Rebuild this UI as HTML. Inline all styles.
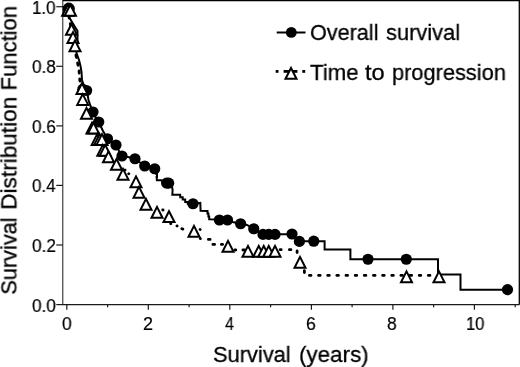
<!DOCTYPE html>
<html><head><meta charset="utf-8"><style>
html,body{margin:0;padding:0;background:#fff;}
body{width:520px;height:367px;position:relative;overflow:hidden;font-family:"Liberation Sans",sans-serif;color:#000;}
.t{will-change:transform;position:absolute;white-space:nowrap;line-height:1;transform-origin:0 0;}
.b{font-size:22.9px;-webkit-text-stroke:0.3px #000;}
.s{font-size:18.0px;-webkit-text-stroke:0.2px #000;}
</style></head><body>
<svg width="520" height="367" viewBox="0 0 520 367" style="position:absolute;left:0;top:0">
<g stroke="#1a1a1a" stroke-width="1.2" fill="none">
<line x1="62.8" x2="62.8" y1="0" y2="304.6" stroke-width="1"/>
<line x1="62.3" x2="519.6" y1="304.6" y2="304.6"/>
<line x1="62.8" x2="520" y1="0.5" y2="0.5" stroke="#000" stroke-width="1.3"/>
<line x1="519.3" x2="519.3" y1="0" y2="304.6" stroke="#000" stroke-width="1.3"/>
<line x1="56.3" x2="62.8" y1="304.6" y2="304.6"/>
<line x1="56.3" x2="62.8" y1="245.0" y2="245.0"/>
<line x1="56.3" x2="62.8" y1="185.4" y2="185.4"/>
<line x1="56.3" x2="62.8" y1="125.9" y2="125.9"/>
<line x1="56.3" x2="62.8" y1="66.3" y2="66.3"/>
<line x1="56.3" x2="62.8" y1="6.7" y2="6.7"/>
<line x1="66.8" x2="66.8" y1="304.6" y2="309.70000000000005"/>
<line x1="107.6" x2="107.6" y1="304.6" y2="307.20000000000005"/>
<line x1="148.3" x2="148.3" y1="304.6" y2="309.70000000000005"/>
<line x1="189.1" x2="189.1" y1="304.6" y2="307.20000000000005"/>
<line x1="229.8" x2="229.8" y1="304.6" y2="309.70000000000005"/>
<line x1="270.6" x2="270.6" y1="304.6" y2="307.20000000000005"/>
<line x1="311.4" x2="311.4" y1="304.6" y2="309.70000000000005"/>
<line x1="352.1" x2="352.1" y1="304.6" y2="307.20000000000005"/>
<line x1="392.9" x2="392.9" y1="304.6" y2="309.70000000000005"/>
<line x1="433.6" x2="433.6" y1="304.6" y2="307.20000000000005"/>
<line x1="474.4" x2="474.4" y1="304.6" y2="309.70000000000005"/>
<line x1="515.2" x2="515.2" y1="304.6" y2="307.20000000000005"/>
</g>
<polyline points="67,8 69,17 71.5,30 73,38 75,51 77,60 79,70 79.8,80 81.5,88" fill="none" stroke="#000" stroke-width="2.8" stroke-dasharray="2.4 5.6" stroke-linecap="round"/>
<path d="M124.96,169.96L125.04,170.04 M128.71,173.71L128.79,173.79 M162.70,210.00L163.10,210.00 M170.71,223.71L170.79,223.79 M177.00,225.83L177.10,225.87 M181.81,228.70L182.89,229.10 M200.10,229.49L200.20,229.51 M200.28,238.56L200.32,238.64 M208.40,239.40L210.10,239.40 M212.90,244.40L214.60,244.40 M221.40,244.40L222.60,244.40 M234.90,250.00L235.80,250.00 M242.90,250.00L244.60,250.00 M280.10,249.70L281.20,249.70 M289.40,249.70L290.90,249.70 M297.10,250.90L297.10,252.50 M304.40,270.60L304.40,272.50 M309.40,275.40L311.00,275.40 M318.55,275.40L320.15,275.40 M327.70,275.40L329.30,275.40 M336.85,275.40L338.45,275.40 M346.00,275.40L347.60,275.40 M355.15,275.40L356.75,275.40 M364.30,275.40L365.90,275.40 M373.45,275.40L375.05,275.40 M382.60,275.40L384.20,275.40 M391.75,275.40L393.35,275.40 M400.90,275.40L402.50,275.40 M410.05,275.40L411.65,275.40 M419.20,275.40L420.80,275.40 M428.35,275.40L429.95,275.40" fill="none" stroke="#000" stroke-width="2.8" stroke-linecap="round"/>
<polyline points="62.8,7 67,7 68,14 69.6,18 72,22 75,27 77.5,31 77.5,40 76.5,53 79,60 80.5,66 81.5,72 82,80 84,86 87,91 88.5,100 90.5,106 93,112 96,118 98.75,122 103,131 107.5,138.75 112,142 116,145 119,151 122,156 128,157 135,158.75 140,162.5 144.7,166 150,167.5 154.7,168.75 156.3,171.5 156.3,174 157,174 157,177 156.6,177 156.9,180.2 161,180.3 167.6,183 172,186 172.6,190 172.3,194.7 180.2,194.7 180.2,197.2 182.7,197.2 182.7,199.6 185.2,199.6 185.2,202 187.7,202 187.7,203.7 193,203.7 200.3,202.9 200.6,210.8 207.5,211 207.5,213.6 208.4,213.6 208.4,216.4 209.2,216.4 209.2,219.3 219.3,219.6 213.75,219.5 227.5,220 232.5,222 240.6,223.75 247,225 253.75,228.75 258,232 263,234.2 292,234.2 295,238 299.4,241.3 324.6,241.3 324.6,249.4 350.4,249.4 350.4,259.2 438.0,259.2 438.0,274.5 460.5,274.5 460.5,289.7 507.5,289.7" fill="none" stroke="#000" stroke-width="2" stroke-linejoin="miter"/>
<g fill="#000">
<circle cx="68.8" cy="8.7" r="6.1"/>
<circle cx="82.8" cy="89.3" r="5.6"/>
<circle cx="86.6" cy="90.5" r="5.6"/>
<circle cx="93" cy="112" r="5.6"/>
<circle cx="98.75" cy="122" r="5.6"/>
<circle cx="107.5" cy="138.75" r="5.6"/>
<circle cx="116" cy="145" r="5.6"/>
<circle cx="122" cy="156" r="5.6"/>
<circle cx="135" cy="158.75" r="5.6"/>
<circle cx="144.7" cy="166" r="5.6"/>
<circle cx="154.7" cy="168.75" r="5.6"/>
<circle cx="166.6" cy="183.1" r="5.6"/>
<circle cx="168.7" cy="183.1" r="5.6"/>
<circle cx="193" cy="203.75" r="5.6"/>
<circle cx="219.4" cy="220" r="5.6"/>
<circle cx="227.5" cy="220" r="5.6"/>
<circle cx="240.6" cy="223.75" r="5.6"/>
<circle cx="253.75" cy="228.75" r="5.6"/>
<circle cx="263" cy="234.4" r="5.6"/>
<circle cx="268.75" cy="234.4" r="5.6"/>
<circle cx="275" cy="234.4" r="5.6"/>
<circle cx="292" cy="234" r="5.6"/>
<circle cx="299.4" cy="241.4" r="5.6"/>
<circle cx="313.75" cy="241.2" r="5.6"/>
<circle cx="368" cy="259.25" r="5.6"/>
<circle cx="406.3" cy="259.25" r="5.6"/>
<circle cx="507.5" cy="289.6" r="5.6"/>
</g>
<g fill="#fff" stroke="#000" stroke-width="2.0" stroke-linejoin="miter">
<path d="M67.80,4.68 L73.47,15.80 L62.13,15.80 Z"/>
<path d="M70.30,4.68 L75.97,15.80 L64.63,15.80 Z"/>
<path d="M71.50,24.00 L77.00,34.80 L66.00,34.80 Z"/>
<path d="M73.00,32.10 L78.50,42.90 L67.50,42.90 Z"/>
<path d="M75.00,40.40 L80.50,51.20 L69.50,51.20 Z"/>
<path d="M82.00,83.30 L87.50,94.10 L76.50,94.10 Z"/>
<path d="M82.70,94.10 L88.20,104.90 L77.20,104.90 Z"/>
<path d="M86.50,107.90 L92.00,118.70 L81.00,118.70 Z"/>
<path d="M92.00,122.65 L97.50,133.45 L86.50,133.45 Z"/>
<path d="M93.50,122.65 L99.00,133.45 L88.00,133.45 Z"/>
<path d="M97.20,134.10 L102.70,144.90 L91.70,144.90 Z"/>
<path d="M99.60,134.10 L105.10,144.90 L94.10,144.90 Z"/>
<path d="M102.00,134.10 L107.50,144.90 L96.50,144.90 Z"/>
<path d="M102.80,144.90 L108.30,155.70 L97.30,155.70 Z"/>
<path d="M105.20,144.90 L110.70,155.70 L99.70,155.70 Z"/>
<path d="M108.50,151.40 L114.00,162.20 L103.00,162.20 Z"/>
<path d="M116.50,158.90 L122.00,169.70 L111.00,169.70 Z"/>
<path d="M123.00,168.90 L128.50,179.70 L117.50,179.70 Z"/>
<path d="M136.00,176.40 L141.50,187.20 L130.50,187.20 Z"/>
<path d="M139.00,186.90 L144.50,197.70 L133.50,197.70 Z"/>
<path d="M146.00,198.90 L151.50,209.70 L140.50,209.70 Z"/>
<path d="M157.00,206.90 L162.50,217.70 L151.50,217.70 Z"/>
<path d="M169.00,211.20 L174.50,222.00 L163.50,222.00 Z"/>
<path d="M194.00,225.90 L199.50,236.70 L188.50,236.70 Z"/>
<path d="M228.00,240.90 L233.50,251.70 L222.50,251.70 Z"/>
<path d="M248.00,245.90 L253.50,256.70 L242.50,256.70 Z"/>
<path d="M258.75,245.90 L264.25,256.70 L253.25,256.70 Z"/>
<path d="M263.75,245.90 L269.25,256.70 L258.25,256.70 Z"/>
<path d="M268.75,245.90 L274.25,256.70 L263.25,256.70 Z"/>
<path d="M275.00,245.90 L280.50,256.70 L269.50,256.70 Z"/>
<path d="M300.00,256.90 L305.50,267.70 L294.50,267.70 Z"/>
<path d="M406.50,271.40 L412.00,282.20 L401.00,282.20 Z"/>
<path d="M439.00,271.40 L444.50,282.20 L433.50,282.20 Z"/>
</g>
<line x1="276.7" x2="305.5" y1="32.5" y2="32.5" stroke="#000" stroke-width="2"/>
<circle cx="291.3" cy="32.4" r="5.4" fill="#000"/>
<rect x="275.7" y="70" width="2.8" height="2.8" fill="#000"/><rect x="302.3" y="70" width="2.9" height="2.8" fill="#000"/><rect x="283.6" y="70" width="13.8" height="2.8" fill="#000"/>
<g fill="#fff" stroke="#000" stroke-width="2.0"><path d="M291.00,68.00 L296.50,78.80 L285.50,78.80 Z"/></g>
</svg>
<div class="t b" style="left:212.83px;top:342.90px;transform:scaleX(0.9549);">Survival</div>
<div class="t b" style="left:298.75px;top:342.90px;transform:scaleX(0.9784);">(years)</div>
<div class="t b" style="left:310.14px;top:20.70px;transform:scaleX(0.9445);">Overall</div>
<div class="t b" style="left:386.40px;top:20.70px;transform:scaleX(0.9552);">survival</div>
<div class="t b" style="left:309.81px;top:60.50px;transform:scaleX(0.9711);">Time</div>
<div class="t b" style="left:364.81px;top:60.50px;transform:scaleX(1.0310);">to</div>
<div class="t b" style="left:391.57px;top:60.50px;transform:scaleX(0.9518);">progression</div>
<div class="t b" style="left:0;top:0;transform:translate(-2.60px,294.67px) rotate(-90deg) scaleX(0.9498);">Survival</div>
<div class="t b" style="left:0;top:0;transform:translate(-2.60px,209.75px) rotate(-90deg) scaleX(0.9872);">Distribution</div>
<div class="t b" style="left:0;top:0;transform:translate(-2.60px,90.40px) rotate(-90deg) scaleX(0.9624);">Function</div>
<div class="t s" style="left:32.01px;top:-1.31px;transform:scaleX(0.9399);">1.0</div>
<div class="t s" style="left:31.69px;top:58.27px;transform:scaleX(0.9532);">0.8</div>
<div class="t s" style="left:31.69px;top:117.85px;transform:scaleX(0.9532);">0.6</div>
<div class="t s" style="left:31.69px;top:177.43px;transform:scaleX(0.9432);">0.4</div>
<div class="t s" style="left:31.68px;top:237.01px;transform:scaleX(0.9583);">0.2</div>
<div class="t s" style="left:31.69px;top:296.59px;transform:scaleX(0.9532);">0.0</div>
<div class="t s" style="left:61.68px;top:315.20px;transform:scaleX(0.9647);">0</div>
<div class="t s" style="left:142.83px;top:315.20px;transform:scaleX(0.9939);">2</div>
<div class="t s" style="left:225.31px;top:315.07px;transform:scaleX(0.8986);">4</div>
<div class="t s" style="left:305.64px;top:315.20px;transform:scaleX(0.9791);">6</div>
<div class="t s" style="left:387.38px;top:315.20px;transform:scaleX(0.9647);">8</div>
<div class="t s" style="left:466.14px;top:315.20px;transform:scaleX(0.9175);">10</div>
</body></html>
